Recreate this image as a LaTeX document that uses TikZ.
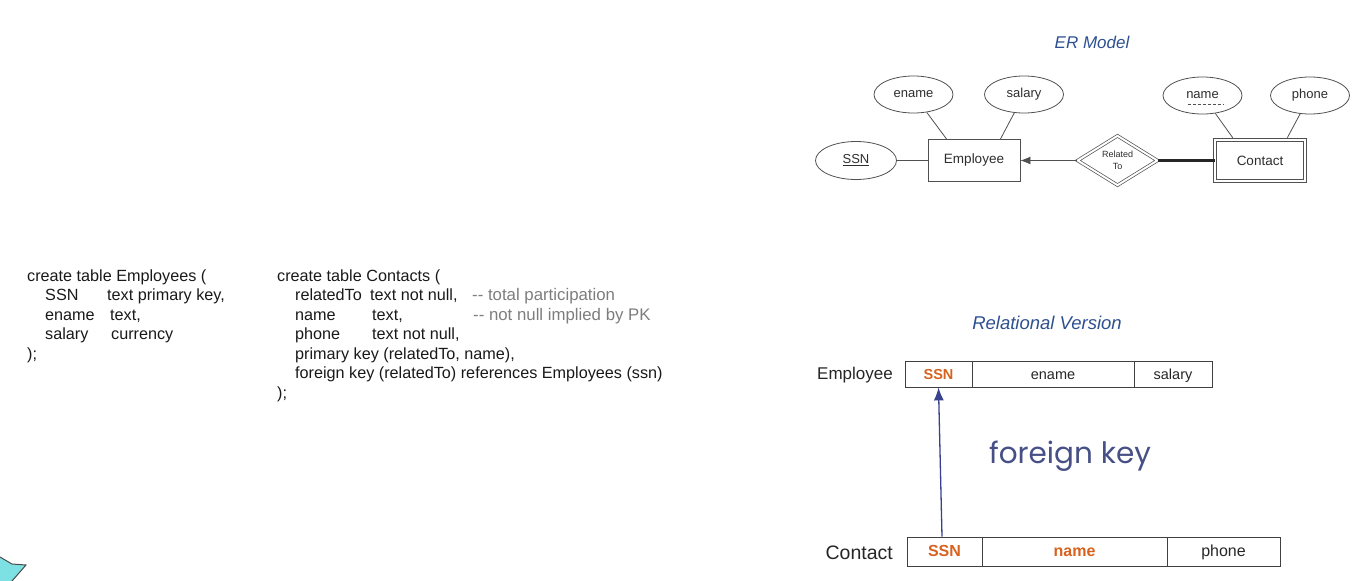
\documentclass[tikz,border=0pt]{standalone}
\usepackage{fontspec}
\setmainfont{Liberation Sans}
\newfontfamily\popfont{Poppins}
\usetikzlibrary{shapes.geometric,arrows.meta,calc}
\definecolor{titleblue}{RGB}{45,80,145}
\definecolor{keyorange}{RGB}{214,98,30}
\definecolor{erline}{RGB}{80,80,80}
\definecolor{ertext}{RGB}{45,45,45}
\definecolor{codecol}{RGB}{25,25,25}
\definecolor{comcol}{RGB}{125,125,125}
\definecolor{fkblue}{RGB}{70,80,135}
\definecolor{arrowblue}{RGB}{55,65,140}
\definecolor{starcyan}{RGB}{125,225,228}
\begin{document}
\begin{tikzpicture}[x=1pt,y=-1pt,
  code/.style={anchor=base west, inner sep=0pt, font=\fontsize{16.2}{19}\selectfont, text=codecol},
  com/.style={code, text=comcol},
  attr/.style={ellipse, draw=erline, line width=0.8pt, inner sep=0pt, minimum width=79pt, minimum height=37pt, font=\fontsize{13}{15}\selectfont, text=ertext},
  entity/.style={rectangle, draw=erline, line width=0.8pt, inner sep=0pt, font=\fontsize{13.5}{15}\selectfont, text=ertext},
  erl/.style={draw=erline, line width=0.8pt},
  ttl/.style={font=\itshape\fontsize{18}{20}\selectfont, text=titleblue, inner sep=0pt},
  cell/.style={rectangle, draw=black!75, line width=0.8pt, inner sep=0pt, text=black!85, text height=11pt, text depth=1pt},
  keytxt/.style={text=keyorange, font=\bfseries\fontsize{14.5}{16}\selectfont},
  rlbl/.style={anchor=east, inner sep=0pt, text=black!85}
]
\useasboundingbox (0,0) rectangle (1371,581);

% ---------- code ----------
\node[code] (a1) at (27,281) {create table Employees (};
\node[code] (a2) at (45,300.5) {SSN};
\node[code] (a3) at (107,300.5) {text primary key,};
\node[code] (a4) at (45,320) {ename};
\node[code] (a5) at (110,320) {text,};
\node[code] (a6) at (45,339.5) {salary};
\node[code] (a7) at (111,339.5) {currency};
\node[code] (a8) at (27,359) {);};

\node[code] (b1) at (277,281) {create table Contacts (};
\node[code] (b2) at (295,300.5) {relatedTo};
\node[code] (b3) at (370,300.5) {text not null,};
\node[com, font=\fontsize{16.8}{19}\selectfont]  (b4) at (472,300.5) {-{}- total participation};
\node[code] (b5) at (295,320) {name};
\node[code] (b6) at (372,320) {text,};
\node[com, font=\fontsize{16.8}{19}\selectfont]  (b7) at (473,320) {-{}- not null implied by PK};
\node[code] (b8) at (295,339.5) {phone};
\node[code] (b9) at (372,339.5) {text not null,};
\node[code] (b10) at (295,359) {primary key (relatedTo, name),};
\node[code] (b11) at (295,378.5) {foreign key (relatedTo) references Employees (ssn)};
\node[code] (b12) at (277,398) {);};

% ---------- ER model ----------
\node[ttl, font=\itshape\fontsize{17}{20}\selectfont] (ertitle) at (1092,42) {ER Model};

\node[entity, minimum width=92pt, minimum height=42pt] (emp) at (974,160.5) {Employee};
\node[attr] (ename) at (913.5,94.5) {ename};
\node[attr] (salary) at (1024,94.5) {salary};
\node[attr, minimum width=81pt, minimum height=38pt] (ssn) at (856,160.5) {\underline{SSN}};
\node[diamond, draw=erline, line width=0.7pt, double, double distance=2pt, inner sep=0pt,
      minimum width=80pt, minimum height=49pt, align=center,
      font=\fontsize{9}{12}\selectfont, text=ertext] (rel) at (1117.5,160.5) {Related\\To};
\node[entity, double, double distance=2.2pt, line width=0.7pt, minimum width=90pt, minimum height=41pt] (contact) at (1260,160.5) {Contact};
\node[attr] (name) at (1202.5,95.5) {name};
\node[attr] (phone) at (1310,95.5) {phone};

\draw[erl, dash pattern=on 3pt off 2pt] ($(name.center)+(-15,9)$) -- ($(name.center)+(21,9)$);

\draw[erl] (ename) -- ($(emp.north west)+(19,0)$);
\draw[erl] (salary) -- ($(emp.north east)+(-20,0)$);
\draw[erl] (ssn) -- (emp);
\draw[erl, -{Latex[length=10pt,width=8pt]}] (rel) -- (emp);
\draw[draw=black!85, line width=2.6pt] (rel) -- (contact);
\draw[erl] (name) -- ($(contact.north west)+(18,-2)$);
\draw[erl] (phone) -- ($(contact.north east)+(-18,-2)$);

% ---------- relational ----------
\node[ttl, font=\itshape\fontsize{18.5}{20}\selectfont] (reltitle) at (1047,323) {Relational Version};

\node[rlbl, font=\fontsize{17}{20}\selectfont] (emplbl) at (893,375) {Employee};
\node[cell, minimum width=67pt, minimum height=26pt, keytxt] (eSSN) at (938.5,374) {SSN};
\node[cell, minimum width=162pt, minimum height=26pt, font=\fontsize{14.5}{16}\selectfont] (eName) at (1053,374) {ename};
\node[cell, minimum width=78pt, minimum height=26pt, font=\fontsize{14.5}{16}\selectfont] (eSal) at (1173,374) {salary};

\node[rlbl, font=\fontsize{19.5}{22}\selectfont] (conlbl) at (893,553) {Contact};
\node[cell, minimum width=75pt, minimum height=29pt, keytxt, font=\bfseries\fontsize{16}{18}\selectfont] (cSSN) at (944.5,551.5) {SSN};
\node[cell, minimum width=185pt, minimum height=29pt, keytxt, font=\bfseries\fontsize{16}{18}\selectfont] (cName) at (1074.5,551.5) {name};
\node[cell, minimum width=113pt, minimum height=29pt, font=\fontsize{16}{18}\selectfont] (cPhone) at (1223.5,551.5) {phone};

\draw[arrowblue, line width=1.3pt, -{Latex[length=13pt,width=10pt]}] ($(cSSN.north)+(-2.5,0)$) -- (eSSN.south);

\node[font=\popfont\fontsize{29.5}{33}\selectfont, text=fkblue, inner sep=0pt] (fk) at (1070,456) {foreign key};

% ---------- star fragment ----------
\fill[starcyan] (0,557) -- (12,564) -- (26,565) -- (12,581) -- (0,581) -- cycle;
\draw[black!70, line width=1pt] (0,557) -- (12,564) -- (26,565) -- (12,581);
\end{tikzpicture}
\end{document}
